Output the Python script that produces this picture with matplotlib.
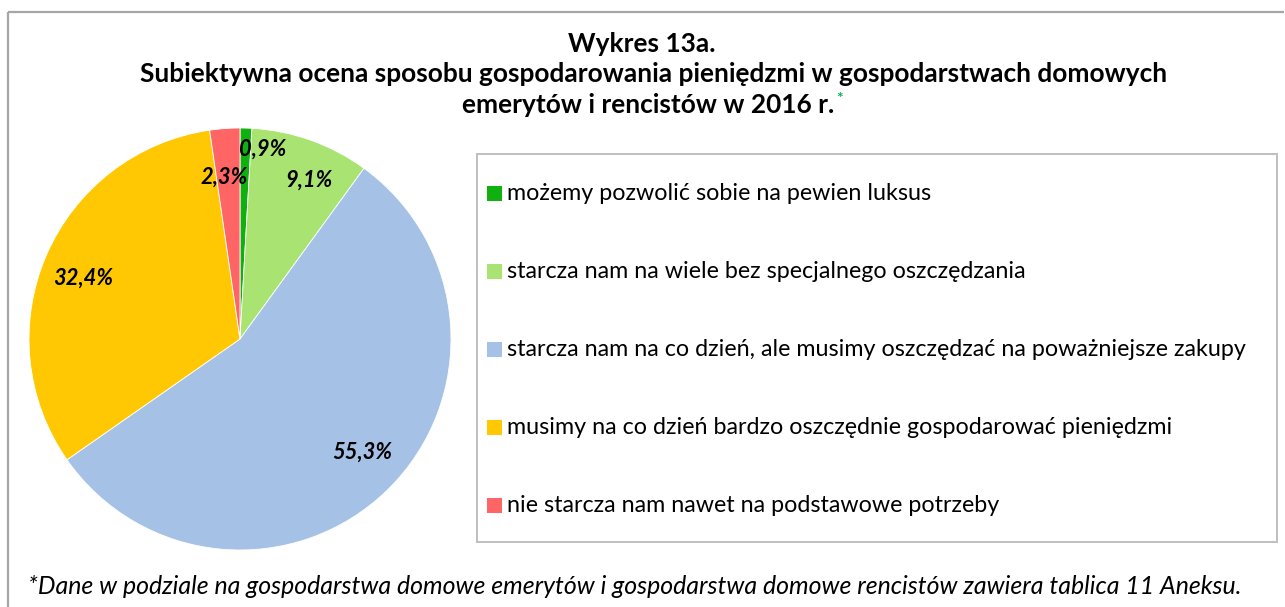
import matplotlib
matplotlib.use("Agg")
import matplotlib.pyplot as plt
from matplotlib.patches import Rectangle

# ---- data ----
categories = [
    "możemy pozwolić sobie na pewien luksus",
    "starcza nam na wiele bez specjalnego oszczędzania",
    "starcza nam na co dzień, ale musimy oszczędzać na poważniejsze zakupy",
    "musimy na co dzień bardzo oszczędnie gospodarować pieniędzmi",
    "nie starcza nam nawet na podstawowe potrzeby",
]
values = [0.9, 9.1, 55.3, 32.4, 2.3]
value_labels = ["0,9%", "9,1%", "55,3%", "32,4%", "2,3%"]
colors = ["#10B010", "#A9E371", "#A5C2E6", "#FFC802", "#FF6565"]

title_lines = [
    "Wykres 13a.",
    "Subiektywna ocena sposobu gospodarowania pieniędzmi w gospodarstwach domowych",
    "emerytów i rencistów w 2016 r.",
]
footnote = ("*Dane w podziale na gospodarstwa domowe emerytów i gospodarstwa domowe "
            "rencistów zawiera tablica 11 Aneksu.")

# ---- layout (pixels) ----
W, H = 1285, 607
FONT = ["Lato", "DejaVu Sans"]
fig = plt.figure(figsize=(W / 100, H / 100), dpi=100)
fig.patch.set_facecolor("white")

# pie axes (below the overlay axes)
cx, cy, r = 240, 339, 211
pax = fig.add_axes([(cx - r) / W, (H - cy - r) / H, 2 * r / W, 2 * r / H])
pax.set_zorder(0)
wedges, _ = pax.pie(values, colors=colors, startangle=90, counterclock=False,
                    radius=1.0, wedgeprops=dict(edgecolor="white", linewidth=0.6))
pax.set_xlim(-1, 1)
pax.set_ylim(-1, 1)
pax.axis("off")

# overlay axes in pixel coordinates
ax = fig.add_axes([0, 0, 1, 1])
ax.set_zorder(1)
ax.patch.set_visible(False)
ax.set_xlim(0, W)
ax.set_ylim(H, 0)
ax.axis("off")
renderer = fig.canvas.get_renderer()


def width_of(t):
    return t.get_window_extent(renderer=renderer).width


def fit(t, target):
    s = t.get_fontsize()
    t.set_fontsize(s * target / width_of(t))
    return t


# outer frame (top and left only)
ax.plot([8, 1284], [12, 12], color="#A6A6A6", lw=1.6, solid_capstyle="butt")
ax.plot([8, 8], [12, H], color="#A6A6A6", lw=1.6, solid_capstyle="butt")

# title
t2 = ax.text(654, 74, title_lines[1], ha="center", va="center",
             fontweight="bold", family=FONT, fontsize=16)
fit(t2, 1028)
fs_title = t2.get_fontsize()
ax.text(642, 44, title_lines[0], ha="center", va="center",
        fontweight="bold", family=FONT, fontsize=fs_title)
t3 = ax.text(648, 105, title_lines[2], ha="center", va="center",
             fontweight="bold", family=FONT, fontsize=fs_title)
x3_end = t3.get_window_extent(renderer=renderer).x1
ax.text(x3_end + 2, 99, "*", ha="left", va="center", color="#00B050",
        fontweight="bold", family=FONT, fontsize=fs_title * 0.6)

# footnote
tf = ax.text(28, 586, footnote, ha="left", va="center", style="italic",
             family=FONT, fontsize=14)
fit(tf, 1217)

# pie value labels
label_pos = [(263, 149), (309, 180), (362, 452), (83, 278), (224, 177)]
lab_texts = []
for (x, y), lab in zip(label_pos, value_labels):
    lab_texts.append(ax.text(x, y, lab, ha="center", va="center",
                             fontweight="bold", style="italic",
                             family=FONT, fontsize=14, color="black"))
fit(lab_texts[3], 60)
for t in lab_texts:
    t.set_fontsize(lab_texts[3].get_fontsize())

# legend box
ax.add_patch(Rectangle((477, 154), 800, 388, facecolor="white",
                       edgecolor="#BFBFBF", lw=1.4))
row_y = [193, 271, 349, 427, 505]
leg_texts = []
for y, w, lab in zip(row_y, wedges, categories):
    ax.add_patch(Rectangle((487, y - 7.5), 15, 15, facecolor=w.get_facecolor(),
                           edgecolor="none"))
    leg_texts.append(ax.text(507, y, lab, ha="left", va="center",
                             family=FONT, fontsize=14))
fit(leg_texts[2], 740)
for t in leg_texts:
    t.set_fontsize(leg_texts[2].get_fontsize())

fig.savefig("out.png", dpi=100, facecolor="white")
